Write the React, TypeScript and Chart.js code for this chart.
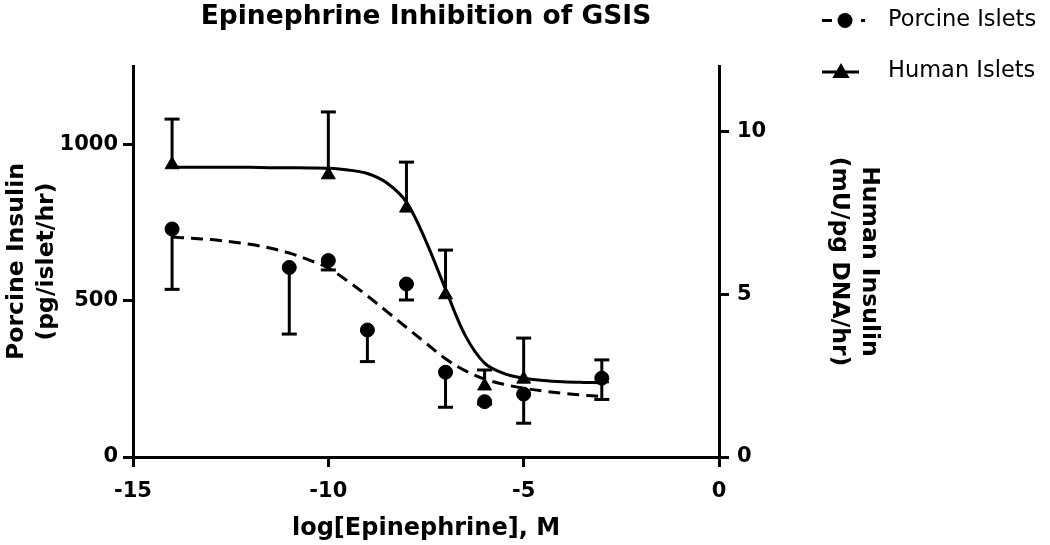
import React, { useEffect, useRef } from 'react';
import { Chart, registerables } from 'chart.js';

Chart.register(...registerables);

const FONT = "'DejaVu Sans', sans-serif";

// Axis ticks
const xTicks = [-15, -10, -5, 0];
const leftTicks = [0, 500, 1000];
const rightTicks = [0, 5, 10];

// Porcine islets (left axis, pg/islet/hr), error bars drawn downward
const porcineDose = [-14, -11, -10, -9, -8, -7, -6, -5, -3];
const porcineMean = [729, 606, 628, 406, 553, 271, 177, 201, 252];
const porcineErrDown = [193, 213, 30, 101, 51, 112, 8, 93, 68];

// Human islets (right axis, mU/pg DNA/hr), error bars drawn upward
const humanDose = [-14, -10, -8, -7, -6, -5, -3];
const humanMean = [8.97, 8.66, 7.64, 4.98, 2.18, 2.39, 2.4];
const humanErrUp = [1.4, 1.93, 1.41, 1.37, 0.49, 1.26, 0.58];

// Fitted curves
const fitX = [-14, -13.5, -13, -12.5, -12, -11.5, -11, -10.5, -10, -9.5, -9, -8.5, -8, -7.5, -7, -6.5, -6, -5.5, -5, -4.5, -4, -3.5, -3];
const porcineFitY = [703, 699, 695, 688, 680, 668, 652, 630, 604, 562, 515, 465, 414, 364, 314, 276, 249, 232, 220, 211, 204, 198, 193];
const humanFitY = [8.89, 8.89, 8.89, 8.89, 8.89, 8.88, 8.88, 8.87, 8.86, 8.81, 8.7, 8.41, 7.82, 6.62, 5.15, 3.74, 2.88, 2.56, 2.42, 2.35, 2.31, 2.29, 2.28];

const titleText = 'Epinephrine Inhibition of GSIS';
const porcineLabel = 'Porcine Islets';
const humanLabel = 'Human Islets';

const errorBarPlugin = {
  id: 'errorBars',
  beforeDatasetsDraw(chart: any) {
    const { ctx } = chart;
    const xs = chart.scales.x;
    const yl = chart.scales.y;
    const yr = chart.scales.y1;
    const cap = 7.5;
    ctx.save();
    ctx.strokeStyle = '#000';
    ctx.lineWidth = 3;
    ctx.lineCap = 'butt';
    const seg = (x1: number, y1: number, x2: number, y2: number) => {
      ctx.beginPath();
      ctx.moveTo(x1, y1);
      ctx.lineTo(x2, y2);
      ctx.stroke();
    };
    porcineDose.forEach((d, i) => {
      const px = xs.getPixelForValue(d);
      const py = yl.getPixelForValue(porcineMean[i]);
      const pe = yl.getPixelForValue(porcineMean[i] - porcineErrDown[i]);
      seg(px, py, px, pe);
      seg(px - cap, pe, px + cap, pe);
    });
    humanDose.forEach((d, i) => {
      const px = xs.getPixelForValue(d);
      const py = yr.getPixelForValue(humanMean[i]);
      const pe = yr.getPixelForValue(humanMean[i] + humanErrUp[i]);
      seg(px, py, px, pe);
      seg(px - cap, pe, px + cap, pe);
    });
    ctx.restore();
  },
};

const decorPlugin = {
  id: 'decor',
  afterDraw(chart: any) {
    const { ctx, chartArea } = chart;
    ctx.save();
    ctx.fillStyle = '#000';
    ctx.strokeStyle = '#000';
    // Title centred over the plot area
    ctx.font = `bold 26.5px ${FONT}`;
    ctx.textAlign = 'center';
    ctx.textBaseline = 'alphabetic';
    ctx.fillText(titleText, (chartArea.left + chartArea.right) / 2, 23.5);

    // Legend
    ctx.lineWidth = 3;
    ctx.lineCap = 'butt';
    // Porcine row
    ctx.setLineDash([10, 29]);
    ctx.beginPath();
    ctx.moveTo(822, 20.5);
    ctx.lineTo(865, 20.5);
    ctx.stroke();
    ctx.setLineDash([]);
    ctx.beginPath();
    ctx.arc(845, 20.5, 7.5, 0, Math.PI * 2);
    ctx.fill();
    // Human row
    ctx.beginPath();
    ctx.moveTo(822, 72);
    ctx.lineTo(859, 72);
    ctx.stroke();
    const r = 10;
    const cx = 841;
    const cy = 73;
    ctx.beginPath();
    ctx.moveTo(cx, cy - r);
    ctx.lineTo(cx + r * Math.sin((2 * Math.PI) / 3), cy - r * Math.cos((2 * Math.PI) / 3));
    ctx.lineTo(cx + r * Math.sin((4 * Math.PI) / 3), cy - r * Math.cos((4 * Math.PI) / 3));
    ctx.closePath();
    ctx.fill();

    ctx.font = `22.5px ${FONT}`;
    ctx.textAlign = 'left';
    ctx.textBaseline = 'middle';
    ctx.fillText(porcineLabel, 888, 20.5);
    ctx.fillText(humanLabel, 888, 71);
    ctx.restore();
  },
};

const gridOpts = {
  display: true,
  drawOnChartArea: false,
  drawTicks: true,
  tickLength: 10,
  tickWidth: 3,
  tickColor: '#000',
  lineWidth: 3,
  color: '#000',
};
const borderOpts = { display: true, width: 3, color: '#000' };
const tickFont = { family: FONT, size: 21, weight: 'bold' as const };

export default function App() {
  const canvasRef = useRef<HTMLCanvasElement | null>(null);

  useEffect(() => {
    if (!canvasRef.current) return;
    const chart = new Chart(canvasRef.current, {
      type: 'scatter',
      data: {
        datasets: [
          {
            label: porcineLabel + ' fit',
            data: fitX.map((x, i) => ({ x, y: porcineFitY[i] })),
            yAxisID: 'y',
            showLine: true,
            borderColor: '#000',
            borderWidth: 3,
            borderDash: [12, 7],
            pointRadius: 0,
            tension: 0.35,
            fill: false,
          },
          {
            label: humanLabel + ' fit',
            data: fitX.map((x, i) => ({ x, y: humanFitY[i] })),
            yAxisID: 'y1',
            showLine: true,
            borderColor: '#000',
            borderWidth: 3,
            pointRadius: 0,
            tension: 0.35,
            fill: false,
          },
          {
            label: porcineLabel,
            data: porcineDose.map((x, i) => ({ x, y: porcineMean[i] })),
            yAxisID: 'y',
            showLine: false,
            pointStyle: 'circle',
            pointRadius: 7,
            pointBorderWidth: 1,
            backgroundColor: '#000',
            borderColor: '#000',
          },
          {
            label: humanLabel,
            data: humanDose.map((x, i) => ({ x, y: humanMean[i] })),
            yAxisID: 'y1',
            showLine: false,
            pointStyle: 'triangle',
            pointRadius: 8,
            pointBorderWidth: 1,
            backgroundColor: '#000',
            borderColor: '#000',
          },
        ],
      } as any,
      options: {
        responsive: false,
        animation: false,
        events: [],
        layout: { padding: { top: 66, left: 0, right: 0, bottom: 0 } },
        plugins: {
          legend: { display: false },
          title: { display: false },
          tooltip: { enabled: false },
        },
        scales: {
          x: {
            type: 'linear',
            position: 'bottom',
            min: -15,
            max: 0,
            afterFit: (s: any) => {
              s.height = 88;
            },
            afterBuildTicks: (s: any) => {
              s.ticks = xTicks.map((v) => ({ value: v }));
            },
            grid: gridOpts,
            border: borderOpts,
            ticks: {
              color: '#000',
              font: tickFont,
              padding: 12,
              maxRotation: 0,
              callback: (v: any) => String(v),
            },
            title: {
              display: true,
              text: 'log[Epinephrine], M',
              color: '#000',
              font: { family: FONT, size: 24, weight: 'bold', lineHeight: 1.2 },
              padding: { top: 0, bottom: 1.6 },
            },
          },
          y: {
            type: 'linear',
            position: 'left',
            min: 0,
            max: 1250,
            afterFit: (s: any) => {
              s.width = 133;
            },
            afterBuildTicks: (s: any) => {
              s.ticks = leftTicks.map((v) => ({ value: v }));
            },
            grid: gridOpts,
            border: borderOpts,
            ticks: {
              color: '#000',
              font: tickFont,
              padding: 5,
              callback: (v: any) => String(v),
            },
            title: {
              display: true,
              text: ['Porcine Insulin', '(pg/islet/hr)'],
              color: '#000',
              font: { family: FONT, size: 23.5, weight: 'bold', lineHeight: 1.26 },
              padding: { top: 2.5, bottom: 0 },
            },
          },
          y1: {
            type: 'linear',
            position: 'right',
            min: 0,
            max: 12,
            afterFit: (s: any) => {
              s.width = 331;
            },
            afterBuildTicks: (s: any) => {
              s.ticks = rightTicks.map((v) => ({ value: v }));
            },
            grid: gridOpts,
            border: borderOpts,
            ticks: {
              color: '#000',
              font: tickFont,
              padding: 8,
              callback: (v: any) => String(v),
            },
            title: {
              display: true,
              text: ['Human Insulin', '(mU/pg DNA/hr)'],
              color: '#000',
              font: { family: FONT, size: 23.5, weight: 'bold', lineHeight: 1.26 },
              padding: { top: 166.5, bottom: 0 },
            },
          },
        },
      } as any,
      plugins: [errorBarPlugin, decorPlugin],
    });
    return () => chart.destroy();
  }, []);

  return (
    <div style={{ position: 'fixed', left: 0, top: 0, width: 1050, height: 545, background: '#fff' }}>
      <canvas ref={canvasRef} width={1050} height={545} style={{ display: 'block' }} />
    </div>
  );
}
